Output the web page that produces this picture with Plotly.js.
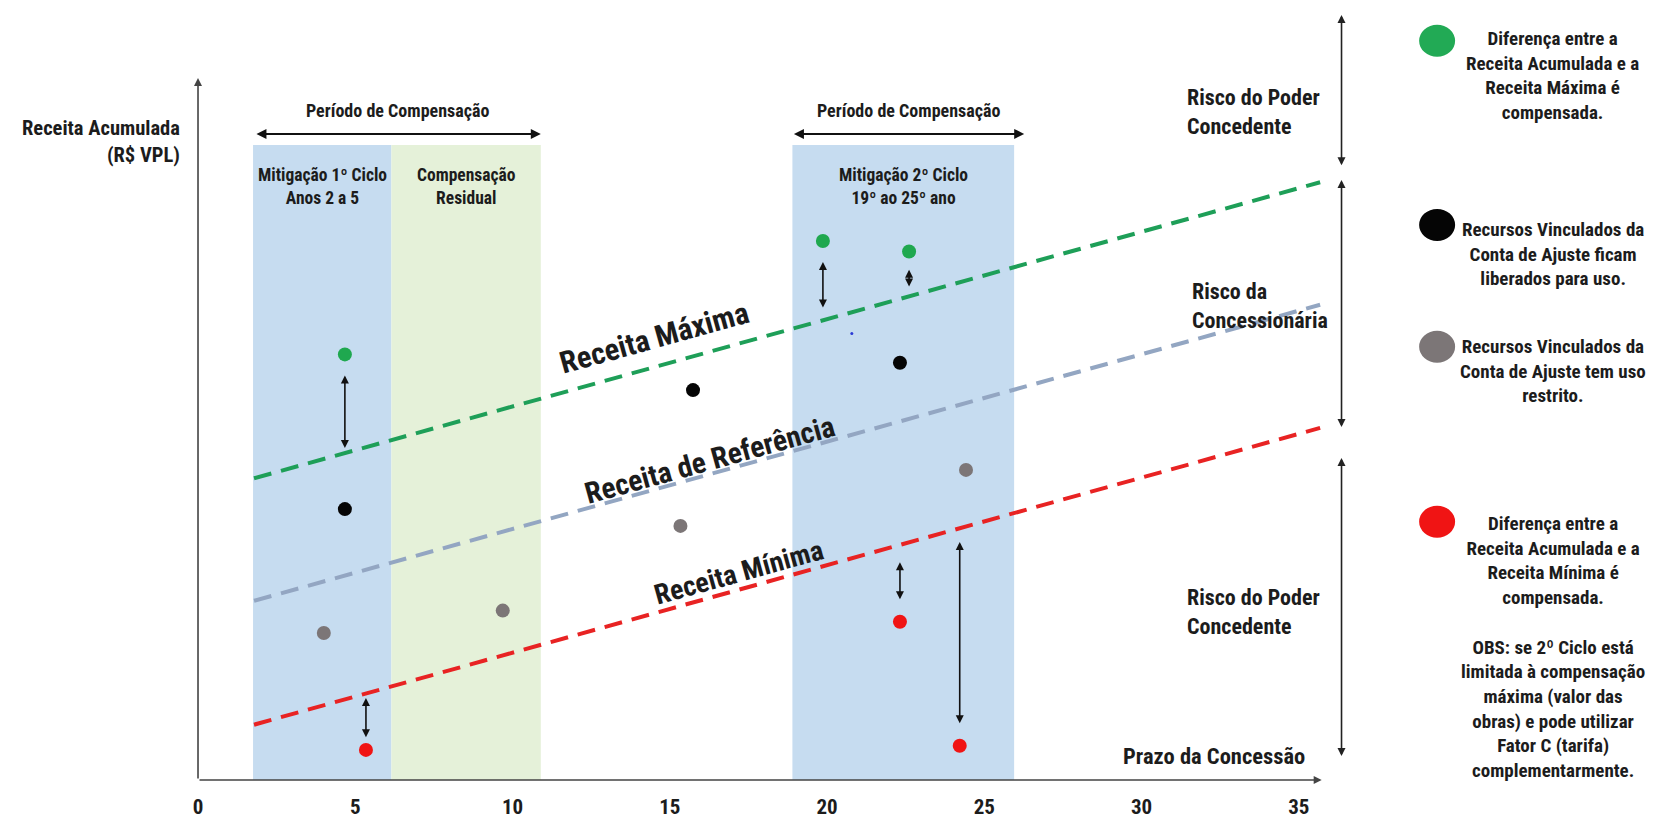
<!DOCTYPE html>
<html>
<head>
<meta charset="utf-8">
<script src="https://cdn.plot.ly/plotly-3.0.1.min.js"></script>
<style>html,body{margin:0;padding:0;background:#fff;}#chart{width:1659px;height:825px;}</style>
</head>
<body>
<div id="chart"></div>
<script>
// ---------- data ----------
const xTickVals = [0, 5, 10, 15, 20, 25, 30, 35];
const xTickText = ['0', '5', '10', '15', '20', '25', '30', '35'];

const lineYears = [1.78, 35.68];
const receitaMaxima = [43.1, 85.4];
const receitaReferencia = [25.6, 67.9];
const receitaMinima = [7.9, 50.3];

const verdeX = [4.67, 19.87, 22.61];
const verdeY = [60.8, 77.0, 75.5];
const pretoX = [4.67, 15.74, 22.32];
const pretoY = [38.7, 55.7, 59.6];
const cinzaX = [4.0, 9.69, 15.34, 24.42];
const cinzaY = [21.0, 24.2, 36.3, 44.3];
const vermelhoX = [5.34, 22.32, 24.22];
const vermelhoY = [4.3, 22.6, 4.9];
const pontoAzulX = [20.79];
const pontoAzulY = [63.8];

// faixas (períodos)
const faixaInicio = [1.75, 6.15, 18.9];
const faixaFim = [6.15, 10.9, 25.95];
const faixaTopo = 90.7;
const faixaTexto = ['Mitigação 1º Ciclo<br>Anos 2 a 5', 'Compensação<br>Residual', 'Mitigação 2º Ciclo<br>19º ao 25º ano'];

// períodos de compensação (setas horizontais)
const periodoInicio = [1.81, 18.9];
const periodoFim = [10.9, 26.27];
const periodoY = 92.3;

// setas verticais de diferença
const difX = [4.67, 19.87, 22.61, 5.34, 22.32, 24.22];
const difTopo = [57.8, 74.0, 72.9, 11.7, 31.1, 34.0];
const difBase = [47.2, 67.3, 70.3, 5.9, 25.6, 7.9];

// setas de risco (lado direito)
const riscoX = 36.36;
const riscoTopo = [109.3, 85.7, 46.0];
const riscoBase = [87.6, 50.2, 3.2];

// ---------- styling ----------
const FONT = '"Roboto Condensed", "Open Sans", Roboto, sans-serif';
const TXT = '#1c1c1c';
const f = (size) => ({family: FONT, size: size, color: TXT, weight: 700, stretch: 'condensed'});

const traces = [
  {x: lineYears, y: receitaMaxima, mode: 'lines', line: {color: '#1e9f58', width: 4, dash: '18px,10px'}, hoverinfo: 'skip'},
  {x: lineYears, y: receitaReferencia, mode: 'lines', line: {color: '#93a6c2', width: 4, dash: '18px,10px'}, hoverinfo: 'skip'},
  {x: lineYears, y: receitaMinima, mode: 'lines', line: {color: '#e82323', width: 4, dash: '18px,10px'}, hoverinfo: 'skip'},
  {x: verdeX, y: verdeY, mode: 'markers', marker: {color: '#1fa84f', size: 14}},
  {x: pretoX, y: pretoY, mode: 'markers', marker: {color: '#050505', size: 14}},
  {x: cinzaX, y: cinzaY, mode: 'markers', marker: {color: '#7c7677', size: 14}},
  {x: vermelhoX, y: vermelhoY, mode: 'markers', marker: {color: '#f01414', size: 14}},
  {x: pontoAzulX, y: pontoAzulY, mode: 'markers', marker: {color: '#2b3bd6', size: 3}}
];

const shapes = [];
faixaInicio.forEach((s, i) => {
  shapes.push({type: 'rect', xref: 'x', yref: 'y', x0: s, x1: faixaFim[i], y0: 0, y1: faixaTopo,
    fillcolor: i === 1 ? '#e5f1d9' : '#c6dcf0', line: {width: 0}, layer: 'below'});
});
// legend keys
const legendKeys = [
  {x: 39.4, y: 105.6, c: '#22aa55'},
  {x: 39.4, y: 79.3, c: '#050505'},
  {x: 39.4, y: 61.9, c: '#7c7677'},
  {x: 39.4, y: 36.9, c: '#f01414'}
];
legendKeys.forEach(k => {
  shapes.push({type: 'circle', xref: 'x', yref: 'y', xsizemode: 'pixel', ysizemode: 'pixel',
    xanchor: k.x, yanchor: k.y, x0: -18, x1: 18, y0: -16, y1: 16, fillcolor: k.c, line: {width: 0}});
});

const ann = [];
function arrow(x0, y0, x1, y1, both, color, width) {
  ann.push({xref: 'x', yref: 'y', axref: 'x', ayref: 'y', x: x1, y: y1, ax: x0, ay: y0, text: '',
    showarrow: true, arrowhead: 2, arrowsize: 1, arrowwidth: width || 1.6,
    arrowside: both ? 'end+start' : 'end', arrowcolor: color || '#111', standoff: 0, startstandoff: 0});
}
// axes
arrow(0, 0, 0, 100.3, false, '#444', 1.6);
arrow(0, 0, 35.73, 0, false, '#444', 1.6);
// periods
periodoInicio.forEach((s, i) => arrow(s, periodoY, periodoFim[i], periodoY, true, '#111', 2));
// diff arrows
difX.forEach((x, i) => arrow(x, difBase[i], x, difTopo[i], true, '#111', 1.6));
// risk arrows
riscoTopo.forEach((t, i) => arrow(riscoX, riscoBase[i], riscoX, t, true, '#222', 1.6));

function txt(x, y, text, size, opts) {
  ann.push(Object.assign({xref: 'x', yref: 'y', x: x, y: y, text: text, showarrow: false, font: f(size)}, opts || {}));
}
txt(0, 91.2, 'Receita Acumulada<br>(R$ VPL)', 20.5, {xanchor: 'right', align: 'right', xshift: -16});
txt(35.25, 3.5, 'Prazo da Concessão', 22.5, {xanchor: 'right'});
periodoInicio.forEach((s, i) => txt((s + periodoFim[i]) / 2, 95.7, 'Período de Compensação', 18));
faixaInicio.forEach((s, i) => txt((s + faixaFim[i]) / 2, 84.8, faixaTexto[i], 17.5));
txt(14.53, 63.2, 'Receita Máxima', 30.5, {textangle: -15.5});
txt(16.28, 45.7, 'Receita de Referência', 29.5, {textangle: -15.5});
txt(17.19, 29.6, 'Receita Mínima', 28, {textangle: -15.5});
txt(31.38, 95.4, 'Risco do Poder<br>Concedente', 22, {xanchor: 'left', align: 'left'});
txt(31.54, 67.7, 'Risco da<br>Concessionária', 22, {xanchor: 'left', align: 'left'});
txt(31.38, 24.07, 'Risco do Poder<br>Concedente', 22, {xanchor: 'left', align: 'left'});
// legend texts
txt(43.08, 100.6, 'Diferença entre a<br>Receita Acumulada e a<br>Receita Máxima é<br>compensada.', 19);
txt(43.08, 75.2, 'Recursos Vinculados da<br>Conta de Ajuste ficam<br>liberados para uso.', 19);
txt(43.08, 58.5, 'Recursos Vinculados da<br>Conta de Ajuste tem uso<br>restrito.', 19);
txt(43.08, 19.0, 'Diferença entre a<br>Receita Acumulada e a<br>Receita Mínima é<br>compensada.<br> <br>OBS: se 2º Ciclo está<br>limitada à compensação<br>máxima (valor das<br>obras) e pode utilizar<br>Fator C (tarifa)<br>complementarmente.', 19);

const layout = {
  width: 1659, height: 825,
  margin: {l: 0, r: 0, t: 0, b: 45, pad: 0},
  paper_bgcolor: '#ffffff', plot_bgcolor: '#ffffff',
  showlegend: false,
  xaxis: {range: [-6.296, 46.455], tickvals: xTickVals, ticktext: xTickText, showgrid: false, zeroline: false,
    showline: false, ticks: '', ticklabelstandoff: 12, tickfont: f(21), fixedrange: true},
  yaxis: {range: [0, 111.43], showgrid: false, zeroline: false, showline: false, showticklabels: false, ticks: '', fixedrange: true},
  shapes: shapes,
  annotations: ann
};

Plotly.newPlot('chart', traces, layout, {displayModeBar: false, staticPlot: true});
</script>
</body>
</html>
